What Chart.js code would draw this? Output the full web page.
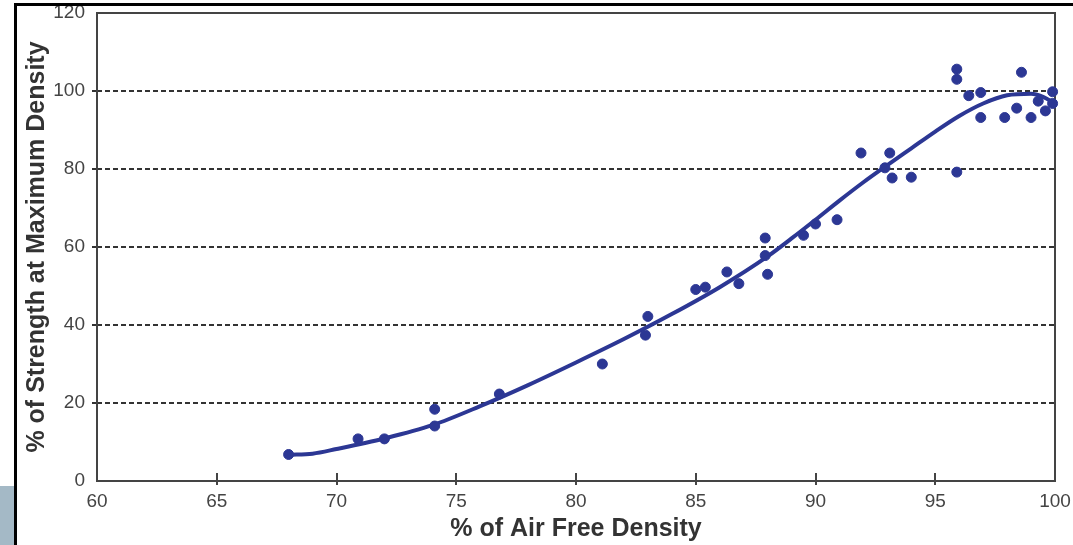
<!DOCTYPE html>
<html>
<head>
<meta charset="utf-8">
<script src="https://cdn.jsdelivr.net/npm/chart.js@4"></script>
<style>
  html, body { margin: 0; padding: 0; background: #fff; }
  #wrap { position: relative; width: 1073px; height: 545px; overflow: hidden; }
  #chart { position: absolute; left: 0; top: 0; }
  .topLine { position: absolute; left: 15px; right: 0; top: 3px; height: 3px; background: #000; }
  .leftLine { position: absolute; left: 14px; top: 3px; bottom: 0; width: 3px; background: #000; }
  .tab { position: absolute; left: 0; top: 486px; width: 14px; bottom: 0; background: #a4b9c6; }
</style>
</head>
<body>
<div id="wrap">
  <canvas id="chart" width="1073" height="545"></canvas>
  <div class="topLine"></div>
  <div class="leftLine"></div>
  <div class="tab"></div>
</div>
<script>
// measured points (% air free density, % strength)
const sampleX = [68.0, 70.9, 72.0, 74.1, 74.1, 76.8, 81.1, 82.9, 83.0, 85.0, 85.4, 86.3, 86.8,
  87.9, 87.9, 88.0, 89.5, 90.0, 90.9, 91.9, 92.9, 93.1, 93.2, 94.0, 95.9, 95.9, 95.9,
  96.4, 96.9, 96.9, 97.9, 98.4, 98.6, 99.0, 99.3, 99.6, 99.9, 99.9];
const sampleY = [6.8, 10.8, 10.8, 18.4, 14.1, 22.3, 30.0, 37.4, 42.2, 49.1, 49.7, 53.6, 50.6,
  62.3, 57.8, 53.0, 63.0, 65.9, 67.0, 84.1, 80.3, 84.1, 77.7, 77.9, 105.6, 103.0, 79.2,
  98.8, 99.6, 93.2, 93.2, 95.6, 104.8, 93.2, 97.4, 94.9, 99.8, 96.8];

// fitted curve
const curveX = [68, 69, 70, 72, 74, 76, 78, 80, 82, 84, 86, 88, 89, 90, 91, 92, 93, 94, 95, 96, 97, 98, 99, 99.5, 100];
const curveY = [6.7, 7.0, 8.2, 10.9, 14.3, 19.2, 24.6, 30.4, 36.4, 42.8, 49.7, 57.6, 62.2, 67.0, 71.9, 76.6, 81.0, 85.3, 89.6, 93.6, 96.8, 98.9, 99.3, 98.5, 96.8];

const xTicks = [60, 65, 70, 75, 80, 85, 90, 95, 100];
const yTicks = [0, 20, 40, 60, 80, 100, 120];

const blue = '#2c3794';
const fontFamily = "'Liberation Sans', Arial, sans-serif";

// plot frame and x tick marks crossing the axis
const framePlugin = {
  id: 'frame',
  beforeDatasetsDraw(chart) {
    const { ctx, chartArea: a } = chart;
    const xs = chart.scales.x;
    ctx.save();
    ctx.strokeStyle = '#444';
    ctx.lineWidth = 2;
    ctx.strokeRect(a.left, a.top, a.right - a.left, a.bottom - a.top);
    xTicks.slice(1, -1).forEach(v => {
      const px = Math.round(xs.getPixelForValue(v));
      ctx.beginPath();
      ctx.moveTo(px, a.bottom - 8);
      ctx.lineTo(px, a.bottom + 4);
      ctx.stroke();
    });
    ctx.restore();
  }
};

new Chart(document.getElementById('chart'), {
  type: 'scatter',
  data: {
    datasets: [
      {
        label: 'Measured',
        data: sampleX.map((x, i) => ({ x: x, y: sampleY[i] })),
        backgroundColor: blue,
        borderColor: blue,
        pointRadius: 5,
        pointHoverRadius: 5,
        clip: false,
        order: 0
      },
      {
        label: 'Fit',
        type: 'line',
        data: curveX.map((x, i) => ({ x: x, y: curveY[i] })),
        borderColor: blue,
        borderWidth: 4,
        pointRadius: 0,
        fill: false,
        cubicInterpolationMode: 'monotone',
        order: 1
      }
    ]
  },
  options: {
    responsive: false,
    animation: false,
    layout: { padding: { left: 0, top: 13, right: 18, bottom: 0 } },
    plugins: {
      legend: { display: false },
      tooltip: { enabled: false }
    },
    scales: {
      x: {
        type: 'linear',
        min: 60,
        max: 100,
        afterBuildTicks: s => { s.ticks = xTicks.map(v => ({ value: v })); },
        afterFit: s => { s.height = 64; s.paddingLeft = 0; s.paddingRight = 0; },
        ticks: {
          color: '#444',
          padding: 9,
          font: { family: fontFamily, size: 19 }
        },
        grid: { drawOnChartArea: false, drawTicks: false },
        border: { display: false },
        title: {
          display: true,
          text: '% of Air Free Density',
          color: '#333',
          padding: { top: 1, bottom: 1 },
          font: { family: fontFamily, size: 25, weight: 'bold' }
        }
      },
      y: {
        min: 0,
        max: 120,
        afterBuildTicks: s => { s.ticks = yTicks.map(v => ({ value: v })); },
        afterFit: s => { s.width = 97; s.paddingTop = 0; s.paddingBottom = 0; },
        ticks: {
          color: '#444',
          padding: 7,
          font: { family: fontFamily, size: 19 }
        },
        grid: {
          color: ctx => (ctx.tick && (ctx.tick.value === 0 || ctx.tick.value === 120)) ? 'rgba(0,0,0,0)' : '#333',
          lineWidth: 2,
          tickLength: 5,
          tickBorderDash: []
        },
        border: { display: false, dash: [5, 3] },
        title: {
          display: true,
          text: '% of Strength at Maximum Density',
          color: '#333',
          padding: { top: 22, bottom: 22 },
          font: { family: fontFamily, size: 25, weight: 'bold' }
        }
      }
    }
  },
  plugins: [framePlugin]
});
</script>
</body>
</html>
